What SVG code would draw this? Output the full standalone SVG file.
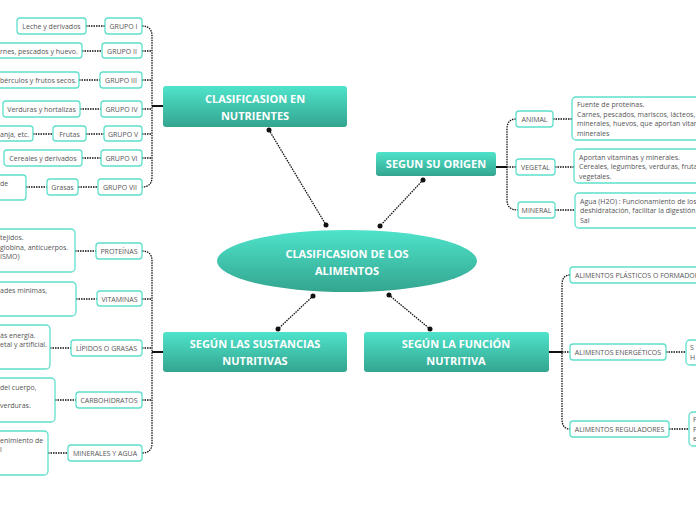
<svg xmlns="http://www.w3.org/2000/svg" width="696" height="520" viewBox="0 0 696 520">
<defs>
<linearGradient id="g" x1="0" y1="0" x2="0" y2="1"><stop offset="0" stop-color="#4fe3cb"/><stop offset="1" stop-color="#33a58f"/></linearGradient>
<style>
.b{fill:#fff;stroke:#5ee0cc;stroke-width:1.3}
.t{font-family:"Open Sans",sans-serif;font-size:7px;fill:#555}
.h{font-family:"Open Sans",sans-serif;font-size:11px;font-weight:bold;fill:#fff;text-anchor:middle}
.c{fill:none;stroke:#111;stroke-width:1.3;stroke-dasharray:1.5 1}
.s{fill:none;stroke:#111;stroke-width:2}
.m{text-anchor:middle}
</style>
</defs>
<g id="connectors">
<path class="c" d="M269 130L326 225M423 180L380 226M313 296L278 329M389 295L430 329"/>
<g fill="#111"><circle cx="269" cy="130" r="2.5"/><circle cx="326" cy="225" r="2.5"/><circle cx="423" cy="180" r="2.5"/><circle cx="380" cy="226" r="2.5"/><circle cx="313" cy="296" r="2.5"/><circle cx="278" cy="329" r="2.5"/><circle cx="389" cy="295" r="2.5"/><circle cx="430" cy="329" r="2.5"/></g>
<path class="s" d="M152 106H163M152 352H163M496 167H507M549 352H562"/>
<path class="c" d="M142 26Q152 26 152 36V177Q152 187 142 187M142 51H152M142 80H152M142 109H152M142 134H152M142 158H152"/>
<path class="c" d="M86 26H105M82 51H102M79 80H100M80 109H101M86 134H104M33 134H53M82 158H101M78 187H98M26 187H47"/>
<path class="c" d="M142 251Q152 251 152 261V443Q152 453 142 453M142 299H152M142 348H152M142 400H152"/>
<path class="c" d="M75 251H96M76 299H97M50 348H71M55 400H76M48 453H68"/>
<path class="c" d="M516 119Q507 119 507 129V200Q507 210 518 210M507 167H516M553 119H572M555 167H574M555 210H575"/>
<path class="c" d="M570 275Q562 275 562 285V419Q562 429 570 429M562 352H570M666 352H686M669 429H689"/>
</g>
<g id="center"><ellipse cx="347" cy="261" rx="130" ry="31" fill="url(#g)"/><text class="h" x="347" y="258">CLASIFICASION DE LOS</text><text class="h" x="347" y="275">ALIMENTOS</text></g>
<g id="nutrientes"><rect x="163" y="86" width="184" height="41" rx="3" fill="url(#g)"/><text class="h" x="255" y="103">CLASIFICASION EN</text><text class="h" x="255" y="120">NUTRIENTES</text></g>
<g id="origen"><rect x="376" y="152" width="120" height="24" rx="3" fill="url(#g)"/><text class="h" x="436" y="168">SEGUN SU ORIGEN</text></g>
<g id="sustancias"><rect x="163" y="332" width="184" height="40" rx="3" fill="url(#g)"/><text class="h" x="255" y="348">SEGÚN LAS SUSTANCIAS</text><text class="h" x="255" y="365">NUTRITIVAS</text></g>
<g id="funcion"><rect x="364" y="332" width="185" height="40" rx="3" fill="url(#g)"/><text class="h" x="456" y="348">SEGÚN LA FUNCIÓN</text><text class="h" x="456" y="365">NUTRITIVA</text></g>
<g id="grupos">
<rect class="b" x="105" y="18" width="37" height="16" rx="3"/><text class="t m" x="123.5" y="28.5">GRUPO I</text>
<rect class="b" x="102" y="43" width="40" height="15" rx="3"/><text class="t m" x="122" y="53.5">GRUPO II</text>
<rect class="b" x="100" y="72" width="42" height="16" rx="3"/><text class="t m" x="121" y="82.5">GRUPO III</text>
<rect class="b" x="101" y="101" width="41" height="16" rx="3"/><text class="t m" x="121.5" y="111.5">GRUPO IV</text>
<rect class="b" x="104" y="126" width="38" height="15" rx="3"/><text class="t m" x="123" y="136.5">GRUPO V</text>
<rect class="b" x="101" y="150" width="41" height="16" rx="3"/><text class="t m" x="121.5" y="160.5">GRUPO VI</text>
<rect class="b" x="98" y="179" width="44" height="16" rx="3"/><text class="t m" x="120" y="189.5">GRUPO VII</text>
<rect class="b" x="17" y="18" width="69" height="16" rx="3"/><text class="t m" x="51.5" y="28.5">Leche y derivados</text>
<rect class="b" x="-5" y="43" width="87" height="15" rx="3"/><text class="t" x="0" y="53.5">rnes, pescados y huevo.</text>
<rect class="b" x="-5" y="72" width="84" height="16" rx="3"/><text class="t" x="0" y="82.5">bérculos y frutos secos.</text>
<rect class="b" x="3" y="101" width="77" height="16" rx="3"/><text class="t m" x="41.5" y="111.5">Verduras y hortalizas</text>
<rect class="b" x="53" y="126" width="33" height="15" rx="3"/><text class="t m" x="69.5" y="136.5">Frutas</text>
<rect class="b" x="-5" y="126" width="38" height="15" rx="3"/><text class="t" x="0" y="136.5">anja, etc.</text>
<rect class="b" x="4" y="150" width="78" height="16" rx="3"/><text class="t m" x="43" y="160.5">Cereales y derivados</text>
<rect class="b" x="47" y="179" width="31" height="16" rx="3"/><text class="t m" x="62.5" y="189.5">Grasas</text>
<rect class="b" x="-5" y="175" width="31" height="25" rx="3"/><text class="t" x="0" y="186">de</text>
</g>
<g id="sust">
<rect class="b" x="96" y="243" width="46" height="16" rx="3"/><text class="t m" x="119" y="253.5">PROTEÍNAS</text>
<rect class="b" x="97" y="291" width="45" height="15" rx="3"/><text class="t m" x="119.5" y="301.5">VITAMINAS</text>
<rect class="b" x="71" y="340" width="71" height="16" rx="3"/><text class="t m" x="106.5" y="350.5">LÍPIDOS O GRASAS</text>
<rect class="b" x="76" y="392" width="66" height="16" rx="3"/><text class="t m" x="109" y="402.5">CARBOHIDRATOS</text>
<rect class="b" x="68" y="445" width="74" height="16" rx="3"/><text class="t m" x="105" y="455.5">MINERALES Y AGUA</text>
<rect class="b" x="-5" y="229" width="80" height="43" rx="4"/><text class="t" x="0" y="240">tejidos.</text><text class="t" x="0" y="249.5">globina, anticuerpos.</text><text class="t" x="0" y="259">ISMO)</text>
<rect class="b" x="-5" y="282" width="81" height="34" rx="4"/><text class="t" x="0" y="292.5">ades minimas,</text>
<rect class="b" x="-5" y="325" width="55" height="44" rx="4"/><text class="t" x="0" y="337.5">ás energía.</text><text class="t" x="0" y="347">etal y artificial.</text>
<rect class="b" x="-5" y="378" width="60" height="44" rx="4"/><text class="t" x="0" y="389.5">del cuerpo,</text><text class="t" x="0" y="408">verduras.</text>
<rect class="b" x="-5" y="431" width="53" height="44" rx="4"/><text class="t" x="0" y="442.5">enimiento de</text><text class="t" x="0" y="452">l</text>
</g>
<g id="orig">
<rect class="b" x="516" y="111" width="37" height="16" rx="3"/><text class="t m" x="534.5" y="121.5">ANIMAL</text>
<rect class="b" x="516" y="159" width="39" height="16" rx="3"/><text class="t m" x="535.5" y="169.5">VEGETAL</text>
<rect class="b" x="518" y="202" width="37" height="16" rx="3"/><text class="t m" x="536.5" y="212.5">MINERAL</text>
<rect class="b" x="572" y="97" width="130" height="43" rx="4"/><text class="t" x="577" y="106.5">Fuente de proteínas.</text><text class="t" x="577" y="116.5">Carnes, pescados, mariscos, lácteos,</text><text class="t" x="577" y="126">minerales, huevos, que aportan vitaminas</text><text class="t" x="577" y="135.5">minerales</text>
<rect class="b" x="574" y="149" width="128" height="34" rx="4"/><text class="t" x="579" y="159.5">Aportan vitaminas y minerales.</text><text class="t" x="579" y="169">Cereales, legumbres, verduras, frutas</text><text class="t" x="579" y="178.5">vegetales.</text>
<rect class="b" x="575" y="193" width="127" height="35" rx="4"/><text class="t" x="580" y="203.5">Agua (H2O) : Funcionamiento de los</text><text class="t" x="580" y="213">deshidratación, facilitar la digestión</text><text class="t" x="580" y="222.5">Sal</text>
</g>
<g id="func">
<rect class="b" x="570" y="267" width="132" height="16" rx="3"/><text class="t" x="575" y="277.5">ALIMENTOS PLÁSTICOS O FORMADORES</text>
<rect class="b" x="570" y="344" width="96" height="16" rx="3"/><text class="t m" x="618" y="354.5">ALIMENTOS ENERGÉTICOS</text>
<rect class="b" x="570" y="421" width="99" height="16" rx="3"/><text class="t m" x="619.5" y="431.5">ALIMENTOS REGULADORES</text>
<rect class="b" x="686" y="340" width="20" height="25" rx="4"/><text class="t" x="690" y="350">S</text><text class="t" x="690" y="359.5">H</text>
<rect class="b" x="689" y="412" width="20" height="34" rx="4"/><text class="t" x="693" y="422">F</text><text class="t" x="693" y="431.5">F</text><text class="t" x="693" y="441">e</text>
</g>
</svg>
